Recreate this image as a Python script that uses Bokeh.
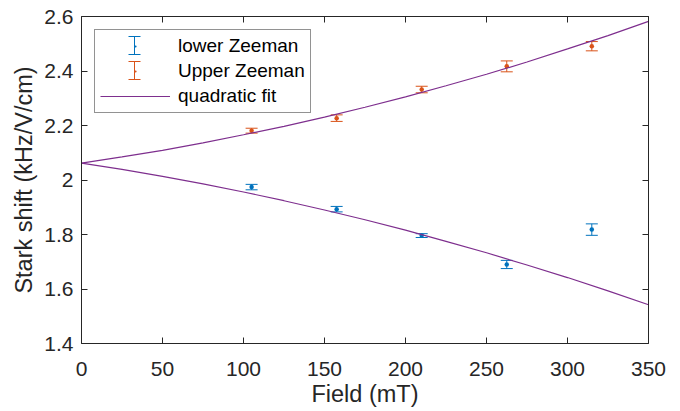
from bokeh.plotting import figure
from bokeh.models import (Range1d, LinearAxis, FixedTicker, PrintfTickFormatter,
                          CustomJSTickFormatter, Whisker, TeeHead, ColumnDataSource,
                          Legend, LegendItem)
from bokeh.embed import file_html
from bokeh.resources import INLINE

# ---------------- data ----------------
field = [105, 157.5, 210, 262.5, 315]
lower_shift = [1.974, 1.893, 1.796, 1.690, 1.818]
lower_err = [0.010, 0.010, 0.007, 0.015, 0.021]
upper_shift = [2.181, 2.227, 2.332, 2.417, 2.491]
upper_err = [0.009, 0.012, 0.012, 0.020, 0.017]

fit_field = [0, 25, 50, 75, 100, 125, 150, 175, 200, 225, 250, 275, 300, 325, 350]
fit_upper = [2.062, 2.085, 2.109, 2.136, 2.166, 2.197, 2.231, 2.267, 2.305,
             2.346, 2.388, 2.433, 2.481, 2.530, 2.582]
fit_lower = [2.062, 2.039, 2.013, 1.986, 1.956, 1.924, 1.890, 1.854, 1.816,
             1.775, 1.733, 1.688, 1.642, 1.593, 1.542]

x_ticks = [0, 50, 100, 150, 200, 250, 300, 350]
y_ticks = [1.4, 1.6, 1.8, 2.0, 2.2, 2.4, 2.6]

series_labels = ["lower Zeeman", "Upper Zeeman", "quadratic fit"]

# ---------------- style ----------------
FONT = "Liberation Sans"
AX = "#262626"
BLUE = "#0072BD"
ORANGE = "#D95319"
PURPLE = "#7E2F8E"

W, H = 680, 411
BL, BR, BT, BB = 81, 32, 16, 68
X0, X1, Y0, Y1 = 0, 350, 1.4, 2.6

p = figure(width=W, height=H, output_backend="svg", toolbar_location=None,
           x_range=Range1d(X0, X1), y_range=Range1d(Y0, Y1),
           min_border_left=BL, min_border_right=BR, min_border_top=BT,
           min_border_bottom=BB,
           x_axis_label="Field (mT)", y_axis_label="Stark shift (kHz/V/cm)")
p.outline_line_color = None
p.grid.visible = False
p.background_fill_color = "white"
p.border_fill_color = "white"


def style_axis(ax, ticks):
    ax.ticker = FixedTicker(ticks=ticks)
    ax.axis_line_color = AX
    ax.axis_line_width = 1
    ax.major_tick_line_color = AX
    ax.major_tick_line_width = 1
    ax.major_tick_in = 6
    ax.major_tick_out = 0
    ax.minor_tick_line_color = None
    ax.major_label_text_font = FONT
    ax.major_label_text_font_size = "21px"
    ax.major_label_text_color = AX
    ax.axis_label_text_font = FONT
    ax.axis_label_text_font_size = "23.5px"
    ax.axis_label_text_font_style = "normal"
    ax.axis_label_text_color = AX


style_axis(p.xaxis[0], x_ticks)
style_axis(p.yaxis[0], y_ticks)
p.xaxis[0].major_label_standoff = 18
p.xaxis[0].axis_label_standoff = 2
p.yaxis[0].major_label_standoff = 8
p.yaxis[0].axis_label_standoff = 4
p.yaxis[0].formatter = PrintfTickFormatter(format="%g")

blank = CustomJSTickFormatter(code="return ''")
top_ax = LinearAxis(formatter=blank)
right_ax = LinearAxis(formatter=blank)
style_axis(top_ax, x_ticks)
style_axis(right_ax, y_ticks)
for ax in (top_ax, right_ax):
    ax.major_label_standoff = 0
    ax.major_label_text_font_size = "1px"
p.add_layout(top_ax, "above")
p.add_layout(right_ax, "right")

# ---------------- error bars ----------------
def add_errorbars(xs, ys, es, color):
    src = ColumnDataSource(dict(x=xs,
                                lo=[y - e for y, e in zip(ys, es)],
                                hi=[y + e for y, e in zip(ys, es)]))
    w = Whisker(source=src, base="x", lower="lo", upper="hi", dimension="height",
                line_color=color, line_width=1, level="underlay",
                upper_head=TeeHead(size=12, line_color=color, line_width=1),
                lower_head=TeeHead(size=12, line_color=color, line_width=1))
    p.add_layout(w)
    r = p.scatter(xs, ys, marker="dot", size=18, line_color=color, fill_color=color)
    return r


lo_r = add_errorbars(field, lower_shift, lower_err, BLUE)
up_r = add_errorbars(field, upper_shift, upper_err, ORANGE)

fit_up_r = p.line(fit_field, fit_upper, line_color=PURPLE, line_width=1.2)
fit_lo_r = p.line(fit_field, fit_lower, line_color=PURPLE, line_width=1.2)

# ---------------- legend ----------------
MARGIN, PAD, GW, GH, SP = 13, 5, 70, 22, 3
legend = Legend(items=[LegendItem(label=series_labels[0], renderers=[lo_r]),
                       LegendItem(label=series_labels[1], renderers=[up_r]),
                       LegendItem(label=series_labels[2], renderers=[fit_up_r])],
                location="top_left", margin=MARGIN, padding=PAD, spacing=SP,
                glyph_width=GW, glyph_height=GH, label_height=GH, label_standoff=8,
                label_text_font=FONT, label_text_font_size="19px",
                label_text_color="black", border_line_color=AX, border_line_width=1,
                background_fill_alpha=0.0)
p.add_layout(legend)

# error-bar icons inside the legend: legend layout pixels mapped to data units
frame_w = W - BL - BR
frame_h = H - BT - BB
for i, color in enumerate([BLUE, ORANGE]):
    px = MARGIN + PAD + GW / 2
    py = MARGIN + PAD + GH / 2 + i * (GH + SP)
    cx = X0 + px / frame_w * (X1 - X0)
    cy = Y1 - py / frame_h * (Y1 - Y0)
    half = 9 / frame_h * (Y1 - Y0)
    isrc = ColumnDataSource(dict(x=[cx], lo=[cy - half], hi=[cy + half]))
    iw = Whisker(source=isrc, base="x", lower="lo", upper="hi", dimension="height",
                 line_color=color, line_width=1,
                 upper_head=TeeHead(size=12, line_color=color, line_width=1),
                 lower_head=TeeHead(size=12, line_color=color, line_width=1))
    p.add_layout(iw)

open("out.html", "w").write(file_html(p, INLINE))
